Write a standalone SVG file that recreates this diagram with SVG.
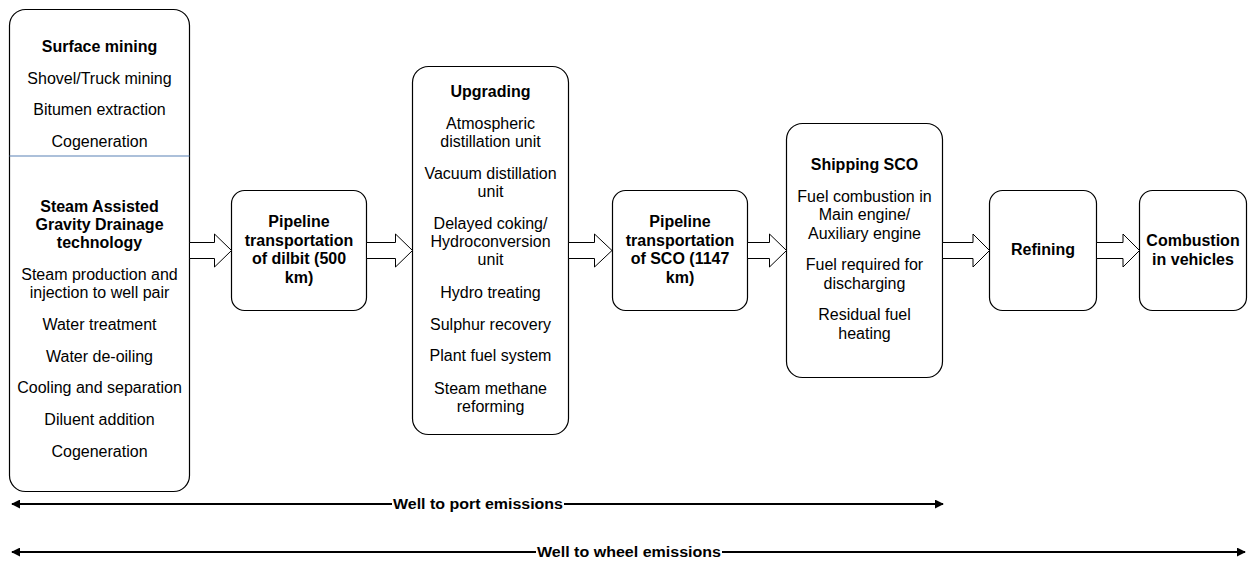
<svg xmlns="http://www.w3.org/2000/svg" width="1250" height="561" viewBox="0 0 1250 561">
<defs>
<style>
.box{fill:#ffffff;stroke:#000000;stroke-width:1.2}
.fat{fill:#ffffff;stroke:#000000;stroke-width:1}
text{font-family:"Liberation Sans",Arial,Helvetica,sans-serif;font-size:16px;fill:#000000;text-anchor:middle}
.b{font-weight:bold}
.span{stroke:#000000;stroke-width:2;fill:none}
.lbl{font-weight:bold;font-size:14.5px}
</style>
<marker id="ah" viewBox="0 0 10 10" refX="9" refY="5" markerWidth="4.5" markerHeight="4.5" orient="auto-start-reverse" markerUnits="strokeWidth">
<path d="M0,0 L10,5 L0,10 z" fill="#000000"/>
</marker>
</defs>
<rect width="1250" height="561" fill="#ffffff"/>

<g id="extraction">
<rect class="box" x="9.5" y="9.5" width="180" height="482" rx="16" ry="16"/>
<line x1="9.5" y1="156" x2="189.5" y2="156" stroke="#5b82b5" stroke-width="1.2"/>
<text class="b" x="99.5" y="52">Surface mining</text>
<text x="99.5" y="84">Shovel/Truck mining</text>
<text x="99.5" y="115">Bitumen extraction</text>
<text x="99.5" y="147">Cogeneration</text>
<text class="b" x="99.5" y="212">Steam Assisted</text>
<text class="b" x="99.5" y="230">Gravity Drainage</text>
<text class="b" x="99.5" y="248">technology</text>
<text x="99.5" y="280">Steam production and</text>
<text x="99.5" y="298">injection to well pair</text>
<text x="99.5" y="330">Water treatment</text>
<text x="99.5" y="362">Water de-oiling</text>
<text x="99.5" y="393">Cooling and separation</text>
<text x="99.5" y="425">Diluent addition</text>
<text x="99.5" y="457">Cogeneration</text>
</g>

<g id="pipeline-dilbit">
<rect class="box" x="231.5" y="190.5" width="135" height="120" rx="13" ry="13"/>
<text class="b" x="299" y="227">Pipeline</text>
<text class="b" x="299" y="245.5">transportation</text>
<text class="b" x="299" y="264">of dilbit (500</text>
<text class="b" x="299" y="282.5">km)</text>
</g>

<g id="upgrading">
<rect class="box" x="412.5" y="66.5" width="156" height="368" rx="16" ry="16"/>
<text class="b" x="490.5" y="97">Upgrading</text>
<text x="490.5" y="129">Atmospheric</text>
<text x="490.5" y="147">distillation unit</text>
<text x="490.5" y="179">Vacuum distillation</text>
<text x="490.5" y="197">unit</text>
<text x="490.5" y="229">Delayed coking/</text>
<text x="490.5" y="247">Hydroconversion</text>
<text x="490.5" y="265">unit</text>
<text x="490.5" y="298">Hydro treating</text>
<text x="490.5" y="330">Sulphur recovery</text>
<text x="490.5" y="361">Plant fuel system</text>
<text x="490.5" y="394">Steam methane</text>
<text x="490.5" y="412">reforming</text>
</g>

<g id="pipeline-sco">
<rect class="box" x="612.5" y="190.5" width="135" height="120" rx="13" ry="13"/>
<text class="b" x="680" y="227">Pipeline</text>
<text class="b" x="680" y="245.5">transportation</text>
<text class="b" x="680" y="264">of SCO (1147</text>
<text class="b" x="680" y="282.5">km)</text>
</g>

<g id="shipping">
<rect class="box" x="786.5" y="123.5" width="156" height="254" rx="16" ry="16"/>
<text class="b" x="864.5" y="170">Shipping SCO</text>
<text x="864.5" y="202">Fuel combustion in</text>
<text x="864.5" y="220">Main engine/</text>
<text x="864.5" y="239">Auxiliary engine</text>
<text x="864.5" y="270">Fuel required for</text>
<text x="864.5" y="289">discharging</text>
<text x="864.5" y="320">Residual fuel</text>
<text x="864.5" y="339">heating</text>
</g>

<g id="refining">
<rect class="box" x="989.5" y="190.5" width="107" height="120" rx="13" ry="13"/>
<text class="b" x="1043" y="255">Refining</text>
</g>

<g id="combustion">
<rect class="box" x="1139.5" y="190.5" width="107" height="120" rx="13" ry="13"/>
<text class="b" x="1193" y="246">Combustion</text>
<text class="b" x="1193" y="264.5">in vehicles</text>
</g>

<g id="connectors">
<polygon class="fat" points="189.5,242.5 214.5,242.5 214.5,234 231.5,250.5 214.5,267 214.5,258.5 189.5,258.5"/>
<polygon class="fat" points="366.5,242.5 395.5,242.5 395.5,234 412.5,250.5 395.5,267 395.5,258.5 366.5,258.5"/>
<polygon class="fat" points="568.5,242.5 594.5,242.5 594.5,234 612,250.5 594.5,267 594.5,258.5 568.5,258.5"/>
<polygon class="fat" points="747.5,242.5 769.5,242.5 769.5,234 786.5,250.5 769.5,267 769.5,258.5 747.5,258.5"/>
<polygon class="fat" points="942.5,242.5 973,242.5 973,234 989.5,250.5 973,267 973,258.5 942.5,258.5"/>
<polygon class="fat" points="1096.5,242.5 1123,242.5 1123,234 1139.5,250.5 1123,267 1123,258.5 1096.5,258.5"/>

<line class="span" x1="12" y1="504" x2="943" y2="504" marker-start="url(#ah)" marker-end="url(#ah)"/>
<rect x="392" y="495" width="172" height="18" fill="#ffffff"/>
<text class="lbl" x="478" y="509" textLength="170" lengthAdjust="spacingAndGlyphs">Well to port emissions</text>

<line class="span" x1="12" y1="552" x2="1245" y2="552" marker-start="url(#ah)" marker-end="url(#ah)"/>
<rect x="536" y="543" width="186" height="18" fill="#ffffff"/>
<text class="lbl" x="629" y="557" textLength="184" lengthAdjust="spacingAndGlyphs">Well to wheel emissions</text>
</g>
</svg>
